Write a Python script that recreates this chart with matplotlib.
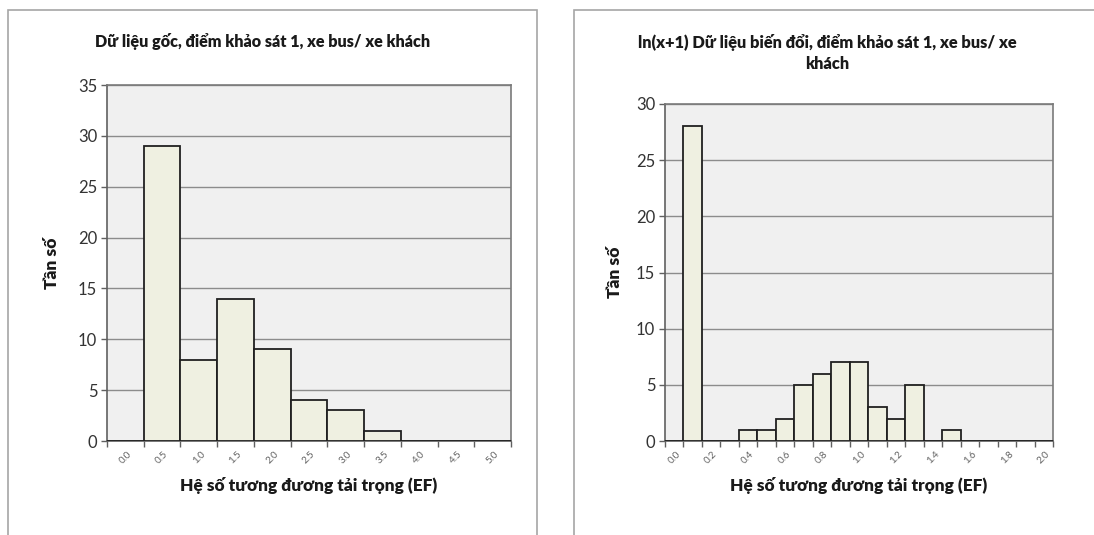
import numpy as np
import matplotlib.pyplot as plt
from matplotlib.patches import Rectangle

plt.rcParams['font.family'] = ['Lato', 'DejaVu Sans']

# left chart: original data
left_labels = ['0.0', '0.5', '1.0', '1.5', '2.0', '2.5', '3.0', '3.5', '4.0', '4.5', '5.0']
left_counts = [0, 29, 8, 14, 9, 4, 3, 1, 0, 0, 0]

# right chart: ln(x+1) transformed data
right_labels = ['0.0', '0.1', '0.2', '0.3', '0.4', '0.5', '0.6', '0.7', '0.8', '0.9', '1.0',
                '1.1', '1.2', '1.3', '1.4', '1.5', '1.6', '1.7', '1.8', '1.9', '2.0']
right_counts = [0, 28, 0, 0, 1, 1, 2, 5, 6, 7, 7, 3, 2, 5, 0, 1, 0, 0, 0, 0, 0]

title_left = 'Dữ liệu gốc, điểm khảo sát 1, xe bus/ xe khách'
title_right = 'ln(x+1) Dữ liệu biến đổi, điểm khảo sát 1, xe bus/ xe\nkhách'
xlabel = 'Hệ số tương đương tải trọng (EF)'
ylabel = 'Tần số'

W, H = 1094, 535
fig = plt.figure(figsize=(W / 100, H / 100), dpi=100)
fig.patch.set_facecolor('white')

# chart area borders
fig.patches.append(Rectangle((8 / W, -0.1), (537 - 8) / W, 1.1 - 10 / H, transform=fig.transFigure,
                             fill=False, edgecolor='#a6a6a6', linewidth=1.2))
fig.patches.append(Rectangle((574 / W, -0.1), 0.5, 1.1 - 10 / H, transform=fig.transFigure,
                             fill=False, edgecolor='#a6a6a6', linewidth=1.2))


def draw(rect, labels, counts, ymax, step_lbl, xlab_x, ylab_x):
    x0, x1, y0, y1 = rect
    ax = fig.add_axes([x0 / W, (H - y1) / H, (x1 - x0) / W, (y1 - y0) / H])
    ax.set_facecolor('#f0f0f0')
    pos = np.arange(len(labels))
    ax.bar(pos, counts, width=1.0, color='#eff0e1', edgecolor='#202020', linewidth=1.3, zorder=3)
    ax.set_xlim(-0.5, len(labels) - 0.5)
    ax.set_ylim(0, ymax)
    ax.set_yticks(np.arange(0, ymax + 1, 5))
    ax.yaxis.grid(True, color='#8c8c8c', linewidth=1.0, zorder=0)
    ax.set_axisbelow(True)
    ax.set_xticks(np.arange(-0.5, len(labels), 1.0))
    ax.set_xticklabels([])
    ax.set_xticks(pos[::step_lbl], minor=True)
    ax.set_xticklabels(labels[::step_lbl], minor=True, rotation=45, fontsize=7, color='#606060')
    ax.tick_params(axis='x', which='major', direction='out', length=4, color='#606060', width=1)
    ax.tick_params(axis='x', which='minor', length=0, pad=6)
    ax.tick_params(axis='y', direction='out', length=4, color='#606060', width=1,
                   labelsize=12, labelcolor='#333333', pad=3)
    for s in ax.spines.values():
        s.set_color('#7a7a7a')
        s.set_linewidth(1.2)
    ax.spines['bottom'].set_color('#606060')
    ax.spines['left'].set_color('#606060')
    fig.text(xlab_x / W, 1 - 486 / H, xlabel, ha='center', va='center', fontsize=12.4,
             fontweight='heavy', color='#1a1a1a')
    fig.text(ylab_x / W, 1 - (y0 + y1) / 2 / H, ylabel, rotation=90, ha='center', va='center',
             fontsize=12.5, fontweight='heavy', color='#1a1a1a')
    return ax


draw((107, 511, 85, 441), left_labels, left_counts, 35, 1, 309, 52)
draw((665, 1053, 104, 441), right_labels, right_counts, 30, 2, 859, 615)

fig.text(263 / W, 1 - 42 / H, title_left, ha='center', va='center', fontsize=11.6,
         fontweight='heavy', color='#1a1a1a')
fig.text(827 / W, 1 - 53 / H, title_right, ha='center', va='center', fontsize=11.8,
         fontweight='heavy', color='#1a1a1a', linespacing=1.4)

fig.savefig('out.png', dpi=100, facecolor='white')
